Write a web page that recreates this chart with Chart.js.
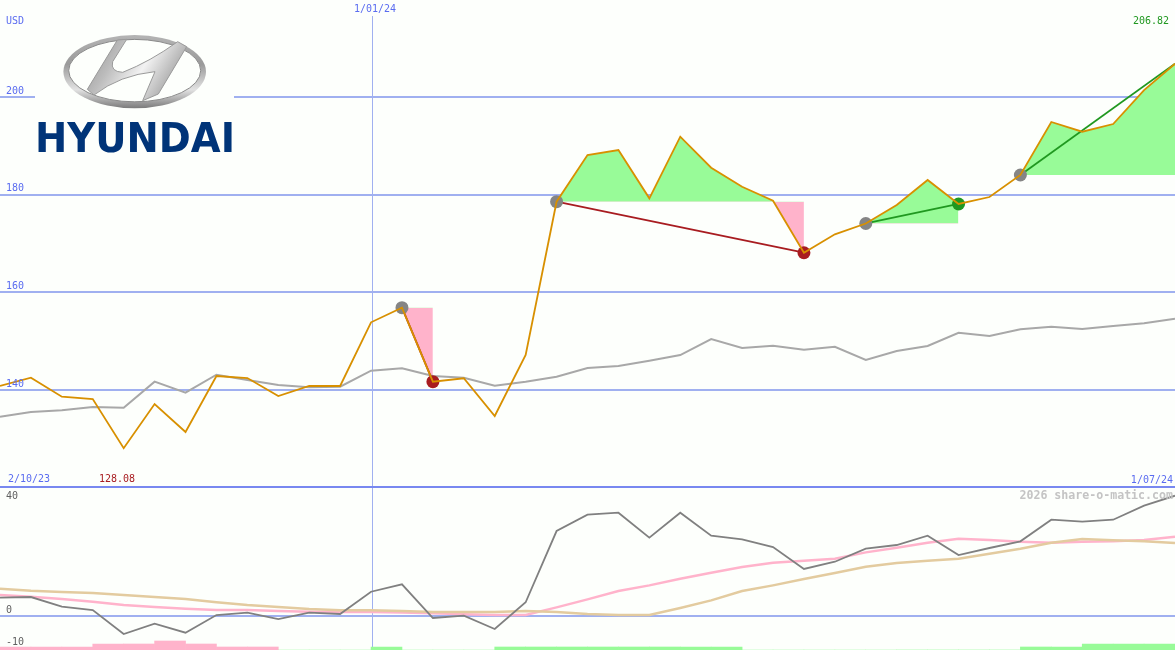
<!DOCTYPE html>
<html>
<head>
<meta charset="utf-8">
<title>Hyundai</title>
<script src="https://cdn.jsdelivr.net/npm/chart.js@4/dist/chart.umd.min.js"></script>
<style>
  html, body { margin: 0; padding: 0; background: #fdfffc; overflow: hidden; }
  canvas { display: block; }
</style>
</head>
<body>
<canvas id="js-canvas-share" width="1175" height="650"></canvas>
<script>
// Weekly closes, market index and the indicator panel
const weeks = ['9/10/23','16/10/23','23/10/23','30/10/23','6/11/23','13/11/23','20/11/23','27/11/23','4/12/23','11/12/23','18/12/23','25/12/23','1/01/24','8/01/24','15/01/24','22/01/24','29/01/24','5/02/24','12/02/24','19/02/24','26/02/24','4/03/24','11/03/24','18/03/24','25/03/24','1/04/24','8/04/24','15/04/24','22/04/24','29/04/24','6/05/24','13/05/24','20/05/24','27/05/24','3/06/24','10/06/24','17/06/24','24/06/24','1/07/24'];
const closes = [140.82,142.52,138.62,138.15,128.08,137.13,131.4,142.86,142.45,138.77,140.82,140.82,153.86,156.85,141.7,142.4,134.67,147.16,178.56,188.12,189.15,179.25,191.87,185.52,181.63,178.76,168.11,171.88,174.1,177.88,183,178.09,179.52,184.03,194.88,192.89,194.47,201.43,206.82];
const market = [134.53,135.49,135.84,136.51,136.37,141.7,139.44,143.13,142.04,141.02,140.55,140.67,143.95,144.44,142.86,142.52,140.88,141.7,142.72,144.5,144.91,146,147.16,150.44,148.6,149.07,148.25,148.86,146.14,147.98,149.01,151.73,151.05,152.43,152.96,152.49,153.1,153.66,154.6];
const momentum = [6.1,6.33,3.1,2,-6,-2.57,-5.57,0.33,1.1,-1,1.1,0.67,8.1,10.57,-0.67,0.1,-4.33,4.57,28.33,33.77,34.43,26.1,34.43,26.77,25.57,23,15.67,18.1,22.43,23.67,26.77,20.33,22.67,24.9,32.1,31.43,32.1,36.77,40.1];
const fastAvg = [7,6.43,5.67,4.77,3.67,3,2.43,2,2,1.67,1.43,1.33,1.33,1.17,0.9,0.57,0.33,0.33,2.9,5.57,8.33,10.23,12.43,14.43,16.33,17.77,18.43,19.1,21.23,22.77,24.43,25.77,25.33,24.77,24.43,24.77,24.9,25.33,26.43];
const slowAvg = [9.1,8.43,8,7.67,7,6.33,5.67,4.57,3.67,3,2.33,1.9,1.9,1.67,1.33,1.33,1.33,1.67,1.33,0.67,0.33,0.33,2.67,5.23,8.33,10.23,12.33,14.33,16.43,17.67,18.43,19.1,20.77,22.43,24.43,25.67,25.23,24.9,24.33];
const histogram = [-1,-1,-1,-2,-2,-3,-2,-1,-1,0,0,0,1,0,0,0,1,1,1,1,1,1,1,1,0,0,0,0,0,0,0,0,0,1,1,2,2,2];
const tradeEntries = [13,18,28,33];
const tradeExits = [14,26,31,38];
const priceTicks = [140,160,180,200];
const indicatorTicks = [40,0,-10];
const dateGridIndex = 12;
const firstDateLabel = '2/10/23';
const lastDateLabel = '1/07/24';
const currencyLabel = 'USD';
const watermark = '2026 share-o-matic.com';

const GREEN_FILL = '#98fb98';
const PINK_FILL = '#ffb3cb';
const GRID = '#a0b0f0';
const LABEL_BLUE = '#5a6cf0';
const RED = '#a81c20';
const GREEN = '#209820';
const GRAY_DOT = '#858585';
const MONO = '"DejaVu Sans Mono", monospace';
const HIST_MAX = 211.33;

const toPoints = values => values.map((y, i) => ({ x: i, y }));
const at = i => ({ x: i, y: closes[i] });

const lineSet = (values, color, order, yAxisID, borderWidth = 1.6) => ({
  data: toPoints(values), borderColor: color, borderWidth, pointRadius: 0,
  tension: 0, fill: false, order, yAxisID
});

const datasets = [
  // Date marker line, the small nudge lands it on a whole pixel
  {
    data: [{ x: dateGridIndex + 0.047, y: 0 }, { x: dateGridIndex + 0.047, y: HIST_MAX }],
    borderColor: GRID, borderWidth: 1, pointRadius: 0, fill: false, order: 20, yAxisID: 'yHist'
  },
  lineSet(market, '#a8a8a8', 6, 'yPrice', 2),
  lineSet(slowAvg, '#e3cb9f', 5, 'yInd', 2.4),
  lineSet(fastAvg, PINK_FILL, 6, 'yInd', 2.4),
  lineSet(momentum, '#808080', 4, 'yInd', 1.8),
  lineSet(closes, '#d89000', 1, 'yPrice', 1.8),
  {
    type: 'bar',
    data: histogram.map((v, i) => ({ x: i + 0.5, y: Math.abs(v) })),
    backgroundColor: histogram.map(v => (v < 0 ? PINK_FILL : GREEN_FILL)),
    barPercentage: 1, categoryPercentage: 1, borderWidth: 0,
    order: 9, yAxisID: 'yHist'
  }
];

tradeEntries.forEach((entry, t) => {
  const exit = tradeExits[t];
  const won = closes[exit] > closes[entry];
  // Area between the close and the entry price
  datasets.push({
    data: toPoints(closes).slice(entry, exit + 1), borderWidth: 0, pointRadius: 0, tension: 0,
    fill: { target: { value: closes[entry] }, above: GREEN_FILL, below: PINK_FILL },
    order: 10, yAxisID: 'yPrice'
  });
  datasets.push({
    data: [at(entry), at(exit)], borderColor: won ? GREEN : RED, borderWidth: 1.8,
    pointRadius: 0, fill: false, order: 3, yAxisID: 'yPrice'
  });
  datasets.push({
    data: [at(entry)], showLine: false, pointRadius: 6.5, pointBorderWidth: 0,
    pointBackgroundColor: GRAY_DOT, order: 2, yAxisID: 'yPrice'
  });
  // The last trade is still open, so it has no exit dot
  if (t < tradeEntries.length - 1) {
    datasets.push({
      data: [at(exit)], showLine: false, pointRadius: 6.5, pointBorderWidth: 0,
      pointBackgroundColor: won ? GREEN : RED, order: 2, yAxisID: 'yPrice'
    });
  }
});

const hiddenAxis = extra => Object.assign({
  ticks: { display: false },
  border: { display: false },
  grid: { display: false, drawTicks: false },
  afterFit: scale => {
    if (scale.isHorizontal()) scale.height = 0; else scale.width = 0;
    scale.paddingLeft = scale.paddingRight = scale.paddingTop = scale.paddingBottom = 0;
  }
}, extra);

const gridAxis = (min, max, tickValues) => hiddenAxis({
  min, max,
  afterBuildTicks: scale => { scale.ticks = tickValues.map(value => ({ value })); },
  grid: { color: GRID, lineWidth: 2, drawTicks: false }
});

function drawLogo(ctx) {
  const p = (x, y) => [30 + x / 3, 30 + y / 3];
  ctx.save();
  ctx.fillStyle = '#fdfffc';
  ctx.fillRect(35, 34, 199, 120);

  const ring = ctx.createLinearGradient(0, 35, 0, 108);
  ring.addColorStop(0, '#b4b4b4');
  ring.addColorStop(0.4, '#9a9a9a');
  ring.addColorStop(0.75, '#e2e2e2');
  ring.addColorStop(1, '#7c7c7c');
  ctx.fillStyle = ring;
  ctx.beginPath();
  ctx.ellipse(134.7, 71.7, 71.3, 36.6, 0, 0, Math.PI * 2);
  ctx.fill();
  ctx.fillStyle = '#fdfffc';
  ctx.strokeStyle = '#8a8a8a';
  ctx.lineWidth = 1;
  ctx.beginPath();
  ctx.ellipse(134.7, 70.6, 66, 31.2, 0, 0, Math.PI * 2);
  ctx.fill();
  ctx.stroke();

  const metal = ctx.createLinearGradient(85, 40, 185, 100);
  metal.addColorStop(0, '#8d8d8d');
  metal.addColorStop(0.3, '#bdbdbd');
  metal.addColorStop(0.55, '#f2f2f2');
  metal.addColorStop(0.8, '#b0b0b0');
  metal.addColorStop(1, '#707070');
  ctx.fillStyle = metal;
  ctx.strokeStyle = '#9a9a9a';
  ctx.beginPath();
  ctx.moveTo(...p(262, 30));
  ctx.lineTo(...p(172, 178));
  ctx.lineTo(...p(192, 195));
  ctx.quadraticCurveTo(...p(270, 135), ...p(375, 125));
  ctx.lineTo(...p(338, 212));
  ctx.lineTo(...p(385, 192));
  ctx.lineTo(...p(470, 50));
  ctx.lineTo(...p(443, 35));
  ctx.quadraticCurveTo(...p(360, 95), ...p(278, 127));
  ctx.quadraticCurveTo(...p(240, 125), ...p(248, 95));
  ctx.lineTo(...p(290, 28));
  ctx.closePath();
  ctx.fill();
  ctx.stroke();

  ctx.fillStyle = '#003478';
  ctx.font = 'bold 41px "DejaVu Sans", sans-serif';
  ctx.textAlign = 'left';
  ctx.textBaseline = 'alphabetic';
  ctx.fillText('HYUNDAI', 35, 152, 200);
  ctx.restore();
}

const sharePlugin = {
  id: 'shareLabels',
  afterDraw(chart) {
    const { ctx, scales } = chart;
    const text = (str, x, y, color, align) => {
      ctx.fillStyle = color;
      ctx.textAlign = align || 'left';
      ctx.fillText(str, x, y);
    };

    // Divider between the price and indicator panels
    ctx.save();
    ctx.fillStyle = '#7888f0';
    ctx.fillRect(0, 486, chart.width, 2);
    ctx.restore();

    drawLogo(ctx);

    ctx.save();
    ctx.font = '10px ' + MONO;
    ctx.textBaseline = 'middle';
    text(currencyLabel, 6, 21, LABEL_BLUE);
    priceTicks.forEach(v => text(String(v), 6, scales.yPrice.getPixelForValue(v) - 6, LABEL_BLUE));
    text(weeks[dateGridIndex], scales.x.getPixelForValue(dateGridIndex) + 4, 9, LABEL_BLUE, 'center');
    text(firstDateLabel, 8, 479, LABEL_BLUE);
    text(lastDateLabel, 1173, 480, LABEL_BLUE, 'right');
    text(Math.min(...closes).toFixed(2), 99, 479, RED);
    text(Math.max(...closes).toFixed(2), 1169, 21, GREEN, 'right');
    const indOffset = { 40: 0, 0: -6, '-10': -4 };
    indicatorTicks.forEach(v => text(String(v), 6, scales.yInd.getPixelForValue(v) + indOffset[v], '#606060'));
    ctx.font = 'bold 11.6px ' + MONO;
    text(watermark, 1173, 496, '#c4c4c4', 'right');
    ctx.restore();
  }
};

new Chart(document.getElementById('js-canvas-share'), {
  type: 'line',
  data: { datasets },
  plugins: [sharePlugin],
  options: {
    responsive: false,
    animation: false,
    parsing: { xAxisKey: 'x', yAxisKey: 'y' },
    layout: { autoPadding: false, padding: { top: 16, left: 0, right: 0, bottom: 0 } },
    plugins: { legend: { display: false }, tooltip: { enabled: false } },
    scales: {
      x: hiddenAxis({ type: 'linear', min: 0, max: weeks.length - 1, offset: false }),
      // All panels share the canvas height, each value range is set so its marks land in its panel
      yPrice: gridAxis(86.75, 216.59, priceTicks),
      yInd: gridAxis(-11.33, 200, [0]),
      yHist: hiddenAxis({ min: 0, max: HIST_MAX })
    }
  }
});
</script>
</body>
</html>
